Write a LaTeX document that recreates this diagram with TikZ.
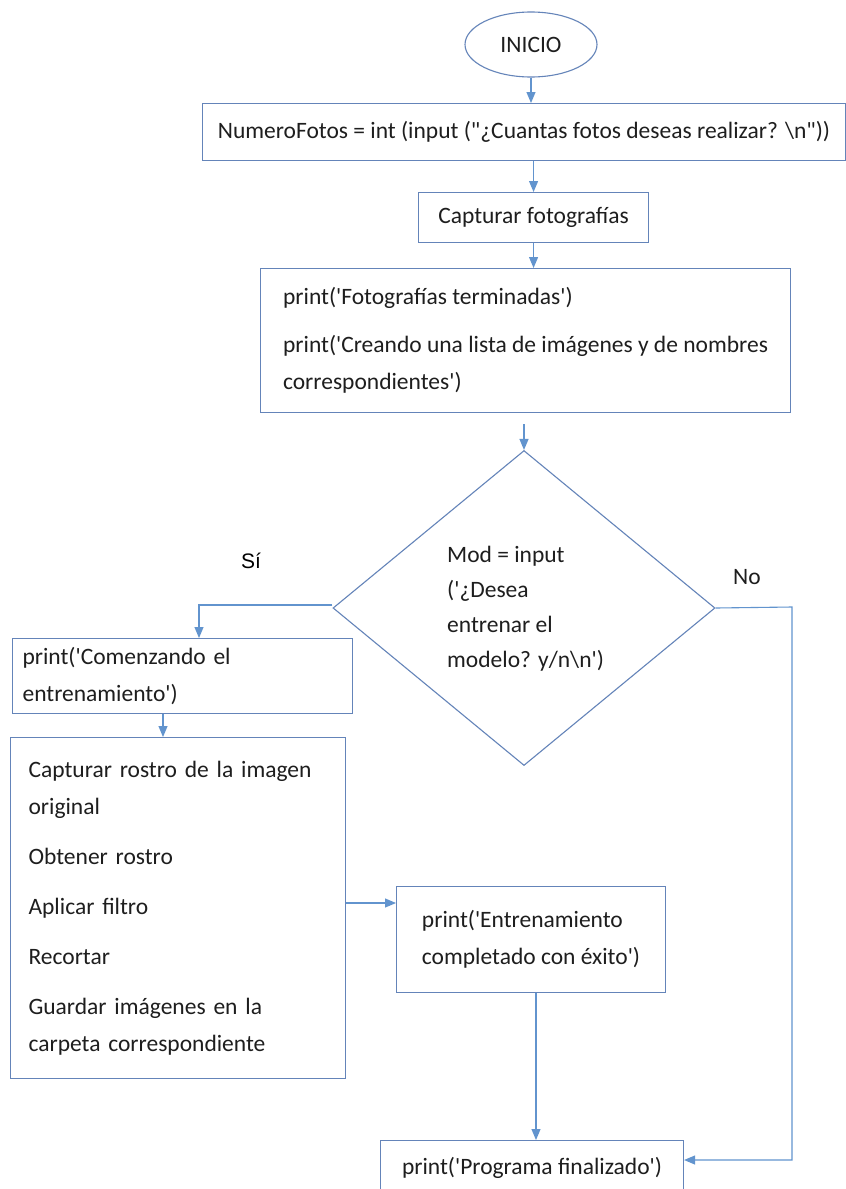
\documentclass[tikz,border=0pt]{standalone}
\usepackage{fontspec}
\setmainfont{Carlito}[Ligatures=TeXOff]
\newfontfamily\arialfont{Liberation Sans}
\usetikzlibrary{shapes.geometric,arrows.meta}
\definecolor{boxc}{RGB}{100,132,185}
\definecolor{linec}{RGB}{98,148,206}
\definecolor{txt}{RGB}{30,30,30}
\begin{document}
\begin{tikzpicture}[x=1pt,y=-1pt,
  every node/.style={font=\fontsize{23.5}{37}\selectfont, text=txt},
  box/.style={draw=boxc, line width=1.1pt, rectangle, anchor=north west, inner ysep=0pt},
  conn/.style={draw=linec, line width=1.1pt},
  arr/.style={conn, -{Triangle[length=11pt,width=9pt]}},
  lbl/.style={inner sep=0pt}
]
\useasboundingbox (0,0) rectangle (846,1189);
\fill[white] (0,0) rectangle (846,1189);

% nodes
\node[ellipse, draw=boxc, line width=1.1pt, minimum width=132pt, minimum height=65pt, inner sep=0pt] (n0) at (531,44.5) {INICIO};
\node[box, minimum width=643pt, minimum height=57pt, align=center, inner xsep=4pt] (n1) at (202,103)
  {NumeroFotos = int (input ("¿Cuantas fotos deseas realizar? \textbackslash n"))};
\node[box, minimum width=230pt, minimum height=50pt, align=center, inner xsep=4pt] (n2) at (418,192)
  {Capturar fotografías};
\node[box, minimum width=530pt, minimum height=144pt, align=left, inner xsep=4pt] (n3) at (260,268)
  {print('Fotografías terminadas')\\[11pt]
   print('Creando una lista de imágenes y de nombres\\
   correspondientes')};
\node[diamond, draw=boxc, line width=1.1pt, minimum width=382pt, minimum height=315pt, inner sep=0pt] (d) at (524,608) {};
\node[anchor=west, align=left, inner sep=0pt, font=\fontsize{23.5}{35}\selectfont] (dt) at (447,609)
  {Mod = input\\ ('¿Desea\\ entrenar el\\ modelo? y/n\textbackslash n')};
\node[box, minimum width=340pt, minimum height=75pt, text width=320pt, align=left, inner xsep=10pt] (n4) at (12,638)
  {print('Comenzando el\\ entrenamiento')};
\node[box, minimum width=335pt, minimum height=341pt, text width=299pt, align=left, inner xsep=18pt] (n5) at (10,737)
  {Capturar rostro de la imagen\\ original\\[13pt]
   Obtener rostro\\[13pt]
   Aplicar filtro\\[13pt]
   Recortar\\[13pt]
   Guardar imágenes en la\\ carpeta correspondiente};
\node[box, minimum width=269pt, minimum height=106pt, align=left, inner xsep=4pt] (n6) at (396,886)
  {print('Entrenamiento\\ completado con éxito')};
\node[box, minimum width=303pt, minimum height=55pt, align=center, inner xsep=4pt] (n7) at (380,1140)
  {print('Programa finalizado')};

% labels
\node[lbl, font=\arialfont\fontsize{21}{24}\selectfont, text=black] (si) at (251,561) {Sí};
\node[lbl] (no) at (747,577) {No};

% helper coordinates
\coordinate (ya) at (199,605);
\coordinate (a45) at (163,0);
\coordinate (a56) at (0,903);
\coordinate (a67) at (536,0);
\coordinate (nr) at (792,607);
\coordinate (nb) at (792,1160);
\coordinate (a3d) at (0,424);

% connectors
\draw[arr] (n0.south) -- (n0.south |- n1.north);
\draw[arr] (n2.north |- n1.south) -- (n2.north);
\draw[arr] (n2.south) -- (n2.south |- n3.north);
\draw[arr] (d.north |- a3d) -- (d.north);
\draw[arr] (d.west |- ya) -- (ya) -- (ya |- n4.north);
\draw[arr] (a45 |- n4.south) -- (a45 |- n5.north);
\draw[arr] (n5.east |- a56) -- (n6.west |- a56);
\draw[arr] (a67 |- n6.south) -- (a67 |- n7.north);
\draw[arr] (d.east) -- (nr) -- (nb) -- (n7.east |- nb);
\end{tikzpicture}
\end{document}
